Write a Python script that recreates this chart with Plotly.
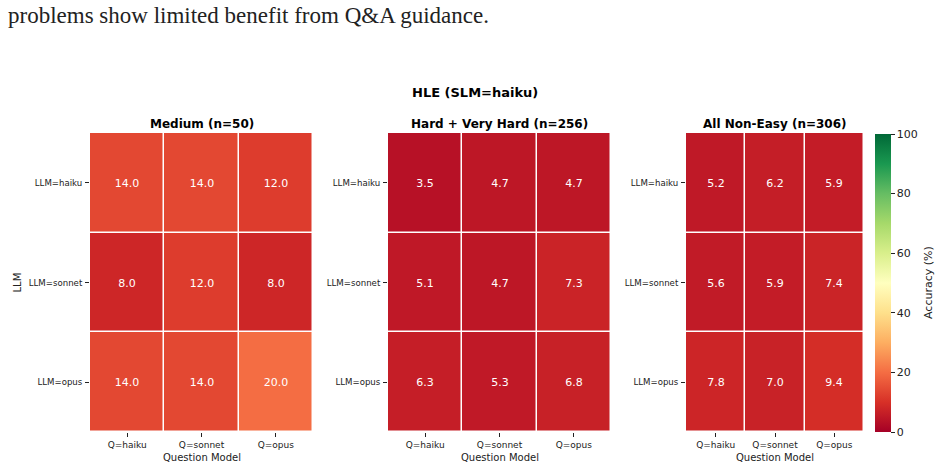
import plotly.graph_objects as go

W, H = 941, 468

q_models = ["Q=haiku", "Q=sonnet", "Q=opus"]
llm_models = ["LLM=haiku", "LLM=sonnet", "LLM=opus"]

medium = [[14.0, 14.0, 12.0], [8.0, 12.0, 8.0], [14.0, 14.0, 20.0]]
hard = [[3.5, 4.7, 4.7], [5.1, 4.7, 7.3], [6.3, 5.3, 6.8]]
non_easy = [[5.2, 6.2, 5.9], [5.6, 5.9, 7.4], [7.8, 7.0, 9.4]]

panel_titles = ["Medium (n=50)", "Hard + Very Hard (n=256)", "All Non-Easy (n=306)"]
panels = [medium, hard, non_easy]

# pixel layout
x_ranges = [(90, 313), (388, 611), (686, 864)]
y_top, y_bot = 133, 432


def px_x(p):
    return p / W


def px_y(p):
    return 1 - p / H


fig = go.Figure()
FONT = "DejaVu Sans"

for i, (z, title, (x0, x1)) in enumerate(zip(panels, panel_titles, x_ranges)):
    n = "" if i == 0 else str(i + 1)
    fig.add_trace(go.Heatmap(
        z=z, x=q_models, y=llm_models,
        coloraxis="coloraxis",
        xgap=1.5, ygap=1.5,
        texttemplate="%{z:.1f}",
        textfont=dict(family=FONT, size=11, color="white"),
        xaxis="x" + n, yaxis="y" + n,
        hoverinfo="skip",
    ))
    fig.layout["xaxis" + n] = dict(
        domain=[px_x(x0), px_x(x1)], anchor="y" + n,
        ticks="outside", ticklen=4, tickcolor="#222", tickwidth=1,
        tickfont=dict(family=FONT, size=9, color="#222"),
        showgrid=False, zeroline=False, showline=False, fixedrange=True,
    )
    fig.layout["yaxis" + n] = dict(
        domain=[px_y(y_bot), px_y(y_top)], anchor="x" + n,
        autorange="reversed",
        ticks="outside", ticklen=4, tickcolor="#222", tickwidth=1,
        ticklabelstandoff=1,
        tickfont=dict(family=FONT, size=8.6, color="#222"),
        showgrid=False, zeroline=False, showline=False, fixedrange=True,
    )
    fig.add_annotation(
        text="<b>" + title + "</b>", xref="paper", yref="paper",
        x=px_x((x0 + x1) / 2), y=px_y(124), xanchor="center", yanchor="middle",
        showarrow=False, font=dict(family=FONT, size=12, color="black"),
    )
    fig.add_annotation(
        text="Question Model", xref="paper", yref="paper",
        x=px_x((x0 + x1) / 2), y=px_y(457), xanchor="center", yanchor="middle",
        showarrow=False, font=dict(family=FONT, size=10, color="#222"),
    )

fig.add_annotation(
    text="LLM", xref="paper", yref="paper", textangle=-90,
    x=px_x(17), y=px_y((y_top + y_bot) / 2), xanchor="center", yanchor="middle",
    showarrow=False, font=dict(family=FONT, size=10, color="#222"),
)
fig.add_annotation(
    text="Accuracy (%)", xref="paper", yref="paper", textangle=-90,
    x=px_x(928), y=px_y(283), xanchor="center", yanchor="middle",
    showarrow=False, font=dict(family=FONT, size=11, color="#222"),
)
fig.add_annotation(
    text="<b>HLE (SLM=haiku)</b>", xref="paper", yref="paper",
    x=px_x(475), y=px_y(93), xanchor="center", yanchor="middle",
    showarrow=False, font=dict(family=FONT, size=13, color="black"),
)
fig.add_annotation(
    text="problems show limited benefit from Q&amp;A guidance.", xref="paper", yref="paper",
    x=px_x(6), y=px_y(16), xanchor="left", yanchor="middle",
    showarrow=False, font=dict(family="Liberation Serif", size=23, color="#222"),
)

fig.update_layout(
    width=W, height=H,
    margin=dict(l=0, r=0, t=0, b=0),
    paper_bgcolor="white", plot_bgcolor="white",
    showlegend=False,
    coloraxis=dict(
        colorscale="RdYlGn", cmin=0, cmax=100,
        colorbar=dict(
            x=px_x(875), xanchor="left", xpad=0, ypad=0,
            y=px_y((134 + 432) / 2), yanchor="middle",
            len=(432 - 134) / H, lenmode="fraction",
            thickness=16, thicknessmode="pixels",
            outlinewidth=0,
            ticks="outside", ticklen=4, tickcolor="#222",
            tickvals=[0, 20, 40, 60, 80, 100],
            tickprefix=" ",
            tickfont=dict(family=FONT, size=11, color="#222"),
        ),
    ),
)

fig.write_html("out.html")
